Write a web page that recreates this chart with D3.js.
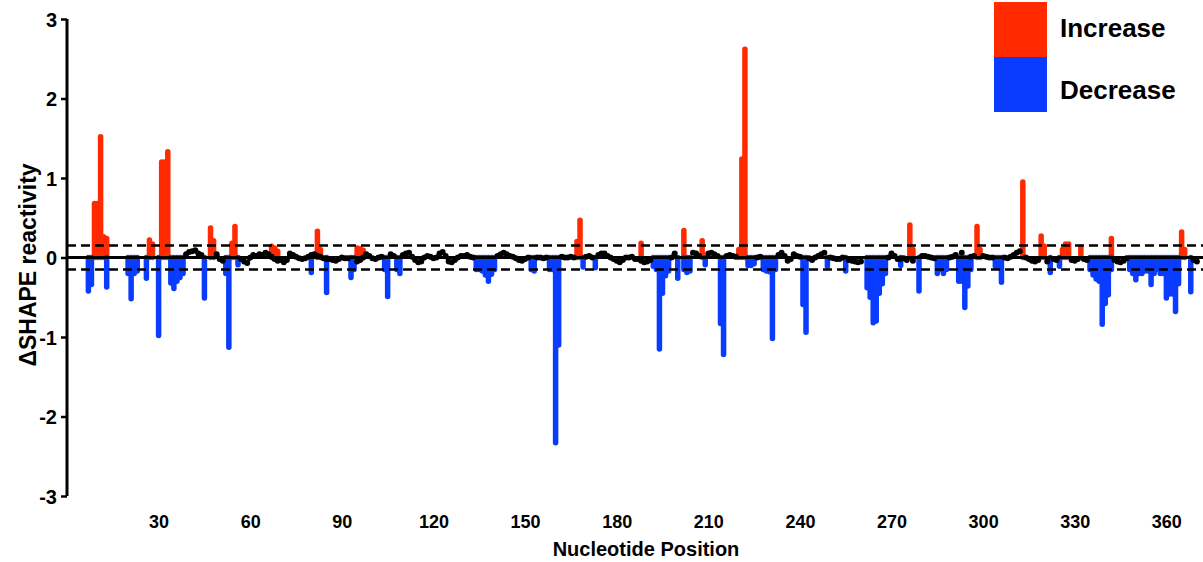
<!DOCTYPE html>
<html>
<head>
<meta charset="utf-8">
<script src="https://cdn.jsdelivr.net/npm/d3@7"></script>
<style>
	body { margin: 0; background: #fff; }
	text { font-family: "Liberation Sans", Arial, sans-serif; font-weight: bold; fill: #000; }
</style>
</head>
<body>
<svg id="chart"></svg>
<script>
// [nucleotide position, delta SHAPE reactivity]
var increaseBars = [
	[9, 0.68], [10, 0.68], [11, 1.52], [12, 0.26], [13, 0.24],
	[27, 0.22], [28, 0.17], [31, 1.2], [32, 1.2], [33, 1.33],
	[47, 0.37], [48, 0.21], [54, 0.18], [55, 0.39],
	[67, 0.14], [68, 0.12], [69, 0.08], [82, 0.33], [83, 0.1],
	[95, 0.12], [96, 0.11], [97, 0.09], [167, 0.2], [168, 0.47],
	[188, 0.18], [202, 0.34], [208, 0.21], [220, 0.1], [221, 1.24], [222, 2.62],
	[276, 0.41], [277, 0.1], [298, 0.39], [299, 0.1], [313, 0.95],
	[319, 0.27], [320, 0.14], [326, 0.1], [327, 0.17], [328, 0.17], [332, 0.13],
	[342, 0.24], [365, 0.32], [366, 0.1]
];

var decreaseBars = [
	[7, -0.42], [8, -0.34], [13, -0.37], [20, -0.2], [21, -0.52], [22, -0.2], [23, -0.17],
	[26, -0.26], [30, -0.98], [34, -0.32], [35, -0.39], [36, -0.3], [37, -0.25], [38, -0.2],
	[45, -0.51], [52, -0.2], [53, -1.13], [56, -0.09], [80, -0.19], [85, -0.44],
	[93, -0.25], [94, -0.15], [104, -0.15], [105, -0.49], [108, -0.15], [109, -0.2],
	[134, -0.15], [135, -0.15], [136, -0.17], [137, -0.22], [138, -0.3], [139, -0.21], [140, -0.15],
	[152, -0.15], [153, -0.17], [158, -0.15], [159, -0.15], [160, -2.33], [161, -1.1],
	[169, -0.12], [173, -0.13], [192, -0.11], [193, -0.15], [194, -1.15], [195, -0.45],
	[196, -0.23], [197, -0.17], [200, -0.26], [202, -0.15], [203, -0.19], [204, -0.17],
	[209, -0.09], [214, -0.83], [215, -1.22], [223, -0.1], [224, -0.1], [225, -0.08],
	[228, -0.15], [229, -0.17], [230, -0.18], [231, -1.02], [232, -0.15],
	[241, -0.59], [242, -0.94], [249, -0.11], [255, -0.17],
	[262, -0.38], [263, -0.5], [264, -0.82], [265, -0.8], [266, -0.45], [267, -0.33], [268, -0.2],
	[273, -0.1], [279, -0.42], [285, -0.2], [286, -0.15], [287, -0.2], [288, -0.15],
	[292, -0.3], [293, -0.3], [294, -0.63], [295, -0.36], [296, -0.15],
	[304, -0.11], [305, -0.11], [306, -0.31], [322, -0.19], [325, -0.11],
	[335, -0.15], [336, -0.22], [337, -0.27], [338, -0.3], [339, -0.84], [340, -0.58], [341, -0.47], [342, -0.15],
	[348, -0.15], [349, -0.2], [350, -0.28], [351, -0.2], [352, -0.2], [353, -0.17], [354, -0.17],
	[355, -0.34], [356, -0.2], [357, -0.15], [358, -0.2], [359, -0.2], [360, -0.51], [361, -0.46],
	[362, -0.46], [363, -0.68], [364, -0.33], [368, -0.43]
];

// positions without a significant change
var unchanged = [
	[39, 0.04], [40, 0.07], [41, 0.08], [42, 0.09], [43, 0.05], [44, 0.03],
	[49, 0.04], [50, -0.02], [51, -0.04],
	[57, -0.02], [58, -0.05], [59, -0.07], [60, 0.0], [61, 0.03], [62, 0.02], [63, 0.04], [64, 0.03],
	[65, 0.06], [66, 0.04], [67, 0.01], [68, -0.02], [69, -0.04], [70, -0.03], [71, -0.06], [72, -0.03],
	[73, 0.05], [74, 0.03], [75, 0.01], [76, -0.01], [77, -0.02], [78, -0.01], [79, 0.01], [80, 0.03],
	[81, 0.04], [82, 0.02], [83, 0.01], [84, -0.01], [85, -0.02], [86, -0.02], [87, -0.03], [88, -0.04],
	[89, -0.02], [90, 0.0], [91, -0.01], [92, -0.01],
	[95, -0.05], [96, -0.03], [97, 0.0], [98, 0.04], [99, 0.02], [100, -0.01], [101, -0.02], [102, 0.0], [103, 0.01],
	[106, 0.04], [107, 0.02],
	[110, 0.03], [111, 0.05], [112, 0.06], [113, 0.01], [114, -0.03], [115, -0.06], [116, -0.05], [117, 0.0],
	[118, 0.02], [119, 0.01], [120, -0.01], [121, 0.0], [122, 0.05], [123, 0.07], [124, 0.02], [125, -0.05],
	[126, -0.06], [127, -0.03], [128, 0.0], [129, 0.02], [130, 0.02], [131, 0.03], [132, 0.01], [133, 0.0],
	[141, 0.02], [142, 0.04], [143, 0.06], [144, 0.04], [145, 0.02], [146, 0.01], [147, -0.01], [148, -0.03],
	[149, -0.04], [150, -0.02], [151, 0.0],
	[154, 0.0], [155, 0.0], [156, -0.01], [157, 0.0],
	[162, 0.01], [163, 0.0], [164, 0.0], [165, 0.01], [166, 0.0],
	[170, 0.01], [171, 0.02], [172, 0.0],
	[174, 0.03], [175, 0.05], [176, 0.05], [177, 0.02], [178, 0.0], [179, -0.02], [180, -0.04], [181, -0.06],
	[182, -0.03], [183, 0.0], [184, 0.0], [185, 0.01], [186, -0.02], [187, -0.02], [188, -0.04], [189, -0.06],
	[190, -0.05], [191, -0.03],
	[198, 0.0], [199, 0.05],
	[205, 0.06], [206, 0.05], [207, 0.02],
	[210, 0.05], [211, 0.06], [212, 0.04], [213, 0.02],
	[216, 0.02], [217, 0.03], [218, 0.02], [219, 0.01],
	[226, 0.0], [227, 0.01],
	[233, 0.03], [234, 0.06], [235, 0.02], [236, -0.04], [237, -0.02], [238, 0.04], [239, 0.02], [240, 0.01],
	[243, -0.01], [244, -0.03], [245, 0.0], [246, 0.02], [247, 0.04], [248, 0.06],
	[250, 0.0], [251, -0.01], [252, -0.02], [253, -0.02], [254, 0.0],
	[256, -0.03], [257, -0.04], [258, -0.05], [259, -0.06], [260, -0.05],
	[269, 0.0], [270, 0.05], [271, 0.02], [272, -0.02], [273, -0.02], [274, -0.01], [275, -0.03],
	[277, -0.04],
	[280, 0.02], [281, 0.02], [282, 0.01], [283, 0.0], [284, -0.01],
	[289, 0.0], [290, 0.01], [291, 0.03],
	[293, 0.06],
	[296, 0.01], [297, 0.02],
	[300, 0.02], [301, 0.01], [302, 0.0], [303, 0.0],
	[307, 0.0], [308, -0.01], [309, 0.01], [310, 0.03], [311, 0.06], [312, 0.08],
	[314, 0.0], [315, -0.02], [316, -0.04], [317, -0.05], [318, -0.03],
	[321, -0.05],
	[323, -0.02], [324, -0.03],
	[329, -0.03], [330, -0.04], [331, -0.02],
	[333, -0.02], [334, -0.03],
	[343, -0.03], [344, -0.05], [345, -0.06], [346, -0.04], [347, -0.01],
	[369, -0.03], [370, -0.05]
];

var thresholds = [0.15, -0.15];
var yTicks = [-3, -2, -1, 0, 1, 2, 3];
var xTicks = [30, 60, 90, 120, 150, 180, 210, 240, 270, 300, 330, 360];
var legendItems = ["Increase", "Decrease"];

var width = 1203, height = 562;
var colors = { increase: "#ff2a00", decrease: "#0a3cff" };
var barWidth = 5.5;

var svg = d3.select("#chart")
	.attr("width", width)
	.attr("height", height);

var x = d3.scaleLinear().domain([0, 372]).range([67, 1203]);
var y = d3.scaleLinear().domain([-3, 3]).range([496, 19]);

// y axis (plain hyphen for negatives)
var yAxis = svg.append("g")
	.attr("transform", "translate(" + x(0) + ",0)")
	.call(d3.axisLeft(y).tickValues(yTicks).tickFormat(function(d) { return String(d); }).tickSize(6).tickPadding(4));
yAxis.select(".domain").attr("stroke-width", 3).attr("d", "M0," + y(3) + "V" + y(-3));
yAxis.selectAll(".tick line").attr("stroke-width", 2.5);
yAxis.selectAll(".tick text").attr("font-size", 20).attr("dy", "0.36em");

svg.append("text")
	.attr("transform", "translate(36,265) rotate(-90)")
	.attr("text-anchor", "middle")
	.attr("font-size", 23)
	.text("ΔSHAPE reactivity");

// x axis: labels only
var xAxis = svg.append("g")
	.attr("transform", "translate(0,509)")
	.call(d3.axisBottom(x).tickValues(xTicks).tickSize(0).tickPadding(6));
xAxis.select(".domain").remove();
xAxis.selectAll(".tick text").attr("font-size", 18);

svg.append("text")
	.attr("x", 646)
	.attr("y", 556)
	.attr("text-anchor", "middle")
	.attr("font-size", 20)
	.text("Nucleotide Position");

// bars
function drawBars(data, color) {
	svg.append("g").selectAll("line")
		.data(data)
		.enter().append("line")
		.attr("x1", function(d) { return x(d[0]); })
		.attr("x2", function(d) { return x(d[0]); })
		.attr("y1", y(0))
		.attr("y2", function(d) { return y(d[1]); })
		.attr("stroke", color)
		.attr("stroke-width", barWidth)
		.attr("stroke-linecap", "round");
}
drawBars(increaseBars, colors.increase);
drawBars(decreaseBars, colors.decrease);

// zero line and thresholds
svg.append("line")
	.attr("x1", x(0)).attr("x2", width)
	.attr("y1", y(0)).attr("y2", y(0))
	.attr("stroke", "#000")
	.attr("stroke-width", 3);

svg.append("g").selectAll("line")
	.data(thresholds)
	.enter().append("line")
	.attr("x1", x(0)).attr("x2", width)
	.attr("y1", function(d) { return y(d); })
	.attr("y2", function(d) { return y(d); })
	.attr("stroke", "#000")
	.attr("stroke-width", 2.5)
	.attr("stroke-dasharray", "9,5");

// unchanged trace, broken where positions are not consecutive
var runs = [];
unchanged.forEach(function(d, i) {
	if (i === 0 || d[0] - unchanged[i - 1][0] > 1) runs.push([]);
	runs[runs.length - 1].push(d);
});

var line = d3.line()
	.x(function(d) { return x(d[0]); })
	.y(function(d) { return y(d[1]); });

svg.append("g").selectAll("path")
	.data(runs)
	.enter().append("path")
	.attr("d", line)
	.attr("fill", "none")
	.attr("stroke", "#000")
	.attr("stroke-width", 3.5)
	.attr("stroke-linejoin", "round");

svg.append("g").selectAll("circle")
	.data(unchanged)
	.enter().append("circle")
	.attr("cx", function(d) { return x(d[0]); })
	.attr("cy", function(d) { return y(d[1]); })
	.attr("r", 3)
	.attr("fill", "#000");

// legend
var legend = svg.append("g").attr("transform", "translate(994,2)");
legend.selectAll("rect")
	.data(legendItems)
	.enter().append("rect")
	.attr("x", 0)
	.attr("y", function(d, i) { return i * 55; })
	.attr("width", 53)
	.attr("height", 55)
	.attr("fill", function(d, i) { return i === 0 ? colors.increase : colors.decrease; });
legend.selectAll("text")
	.data(legendItems)
	.enter().append("text")
	.attr("x", 66)
	.attr("y", function(d, i) { return 26 + i * 62; })
	.attr("dy", "0.36em")
	.attr("font-size", 26)
	.text(function(d) { return d; });
</script>
</body>
</html>
